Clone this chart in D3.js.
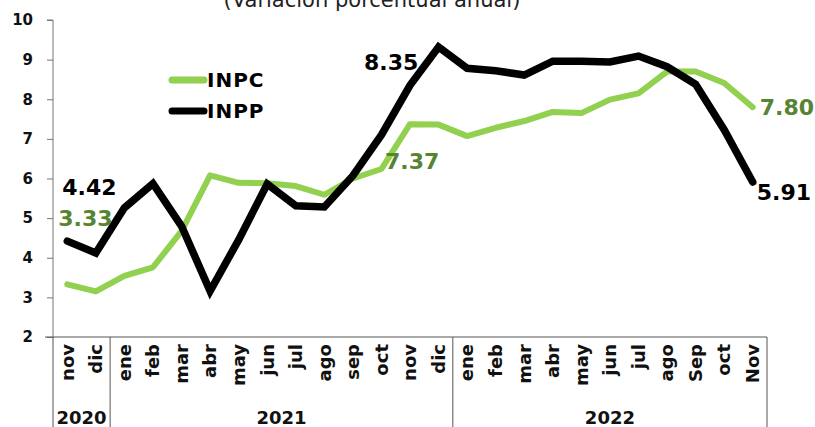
<!DOCTYPE html>
<html><head><meta charset="utf-8">
<script src="https://cdn.jsdelivr.net/npm/d3@7"></script>
<style>html,body{margin:0;padding:0;background:#fff;overflow:hidden}</style>
</head><body>
<svg id="c" width="815" height="427"></svg>
<script>
const months = ["nov","dic","ene","feb","mar","abr","may","jun","jul","ago","sep","oct","nov","dic","ene","feb","mar","abr","may","jun","jul","ago","Sep","oct","Nov"];
const years = [{label:"2020", from:0, to:2},{label:"2021", from:2, to:14},{label:"2022", from:14, to:25}];
const inpc = [3.33,3.15,3.54,3.76,4.67,6.08,5.89,5.88,5.81,5.59,6.00,6.24,7.37,7.36,7.07,7.28,7.45,7.68,7.65,7.99,8.15,8.70,8.70,8.41,7.80];
const inpp = [4.42,4.12,5.26,5.87,4.80,3.16,4.45,5.86,5.31,5.28,6.07,7.10,8.35,9.32,8.78,8.72,8.61,8.96,8.96,8.94,9.09,8.82,8.38,7.23,5.91];
const yTicks = [2,3,4,5,6,7,8,9,10];
const title = "(Variación porcentual anual)";

const svg = d3.select("#c");
const mLeft = 53, mRight = 767, mTop = 20, mBottom = 337;
const x = d3.scaleBand().domain(d3.range(months.length)).range([mLeft, mRight]);
const y = d3.scaleLinear().domain([2,10]).range([mBottom, mTop]);
const font = "'DejaVu Sans', sans-serif";
const GREEN = "#92d050", DGREEN = "#568432";

svg.append("text").attr("x", 372).attr("y", 7).attr("text-anchor","middle")
  .attr("font-family", font).attr("font-size", 21).attr("fill","#222").text(title);

// y axis
const ya = svg.append("g").attr("transform", `translate(${mLeft},0)`)
  .call(d3.axisLeft(y).tickValues(yTicks).tickSize(6).tickPadding(14).tickFormat(d3.format("d")));
ya.select(".domain").attr("stroke","#777").attr("d", `M-6,${mTop}H0V${mBottom}`);
ya.selectAll(".tick line").attr("stroke","#777");
ya.selectAll(".tick text").attr("font-family", font).attr("font-weight","bold").attr("font-size",15).attr("fill","#111");

// x axis line + category box
svg.append("line").attr("x1", mLeft-8).attr("x2", mRight).attr("y1", mBottom).attr("y2", mBottom).attr("stroke","#555");
const seps = [0, 2, 14, 25];
seps.forEach(i => {
  const xx = i === 25 ? mRight : x(i);
  svg.append("line").attr("x1", xx).attr("x2", xx).attr("y1", mBottom).attr("y2", 427).attr("stroke","#555");
});
const xa = svg.append("g").attr("transform", `translate(0,${mBottom})`)
  .call(d3.axisBottom(x).tickSize(0).tickFormat(i => months[i]));
xa.select(".domain").remove();
xa.selectAll(".tick text")
  .attr("transform","rotate(-90)").attr("text-anchor","end")
  .attr("x", -7).attr("y", 0).attr("dy","0.35em")
  .attr("font-family", font).attr("font-weight","bold").attr("font-size",18).attr("fill","#111");

years.forEach(yr => {
  const cx = (x(yr.from) + (yr.to === 25 ? mRight : x(yr.to))) / 2;
  svg.append("text").attr("x", cx).attr("y", 424).attr("text-anchor","middle")
    .attr("font-family", font).attr("font-weight","bold").attr("font-size",18).attr("fill","#111").text(yr.label);
});

const line = d3.line().x((d,i) => x(i) + x.bandwidth()/2).y(d => y(d));
svg.append("path").datum(inpc).attr("d", line).attr("fill","none")
  .attr("stroke", GREEN).attr("stroke-width", 6).attr("stroke-linejoin","round").attr("stroke-linecap","round");
svg.append("path").datum(inpp).attr("d", line).attr("fill","none")
  .attr("stroke", "#000").attr("stroke-width", 7.5).attr("stroke-linejoin","miter").attr("stroke-linecap","round");

// legend
const leg = [{name:"INPC", c: GREEN, y: 80},{name:"INPP", c:"#000", y:111}];
leg.forEach(l => {
  svg.append("line").attr("x1",172).attr("x2",204).attr("y1",l.y).attr("y2",l.y)
    .attr("stroke", l.c).attr("stroke-width",7).attr("stroke-linecap","round");
  svg.append("text").attr("x",207).attr("y",l.y+7).attr("font-family",font).attr("font-weight","bold")
    .attr("font-size",20).attr("letter-spacing",1).attr("fill","#000").text(l.name);
});

// value labels
const labs = [
  {s:inpp, i:0, dx:-5, dy:-46, c:"#000"},
  {s:inpc, i:0, dx:-9, dy:-58, c:DGREEN},
  {s:inpp, i:12, dx:-46, dy:-15, c:"#000"},
  {s:inpc, i:12, dx:-25, dy:45, c:DGREEN},
  {s:inpc, i:24, dx:7, dy:8, c:DGREEN},
  {s:inpp, i:24, dx:4, dy:18, c:"#000"}
];
labs.forEach(l => {
  svg.append("text").attr("x", x(l.i) + x.bandwidth()/2 + l.dx).attr("y", y(l.s[l.i]) + l.dy)
    .attr("font-family", font).attr("font-weight","bold").attr("font-size",22).attr("fill", l.c)
    .text(l.s[l.i].toFixed(2));
});
</script>
</body></html>
